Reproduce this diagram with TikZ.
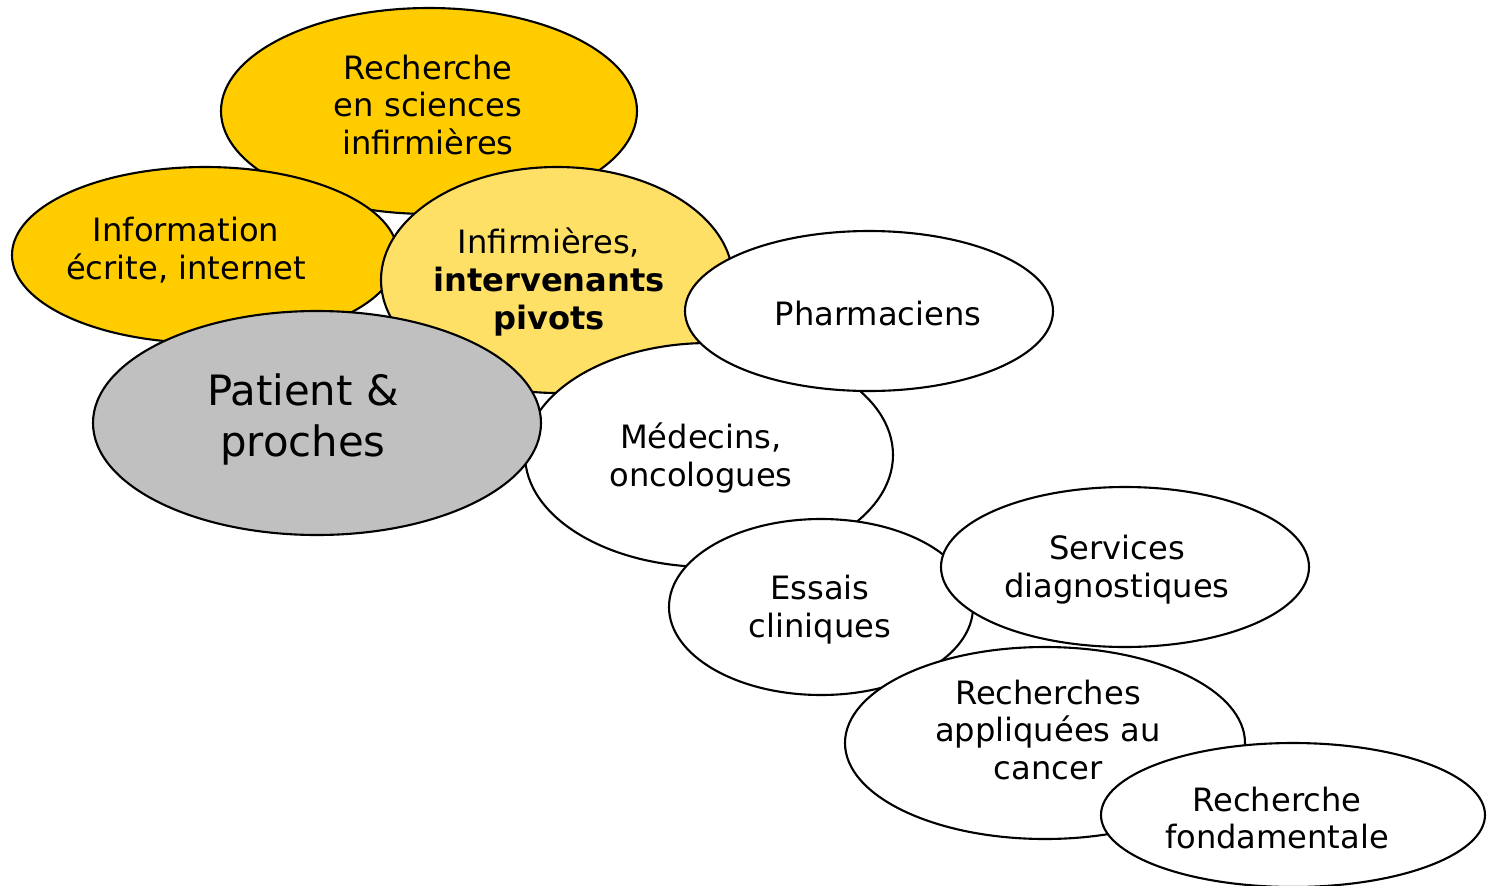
\documentclass[tikz,border=0pt]{standalone}
\usepackage{fontspec}
\setmainfont{DejaVu Sans}
\definecolor{gold}{HTML}{FFCC00}
\definecolor{lightgold}{HTML}{FFE066}
\definecolor{patgray}{HTML}{C0C0C0}
\tikzset{
  ell/.style={draw=black, line width=1.2pt, fill=#1},
  lbl/.style={align=center, inner sep=0pt, font=\fontsize{18.3}{21.6}\selectfont},
  biglbl/.style={align=center, inner sep=0pt, font=\fontsize{23.8}{29}\selectfont}
}
\begin{document}
\begin{tikzpicture}[x=0.02cm, y=-0.02cm]
\useasboundingbox (0,0) rectangle (1489,886);
% ellipses (back to front)
\path[ell=gold] (429,111) coordinate (e1) ellipse [x radius=208, y radius=103];
\path[ell=gold] (205,255) coordinate (e2) ellipse [x radius=193, y radius=88];
\path[ell=lightgold] (557,280) coordinate (e3) ellipse [x radius=176, y radius=113];
\path[ell=white] (709,455) coordinate (e5) ellipse [x radius=184, y radius=112];
\path[ell=patgray] (317,423) coordinate (e4) ellipse [x radius=224, y radius=112];
\path[ell=white] (869,311) coordinate (e6) ellipse [x radius=184, y radius=80];
\path[ell=white] (821,607) coordinate (e7) ellipse [x radius=152, y radius=88];
\path[ell=white] (1125,567) coordinate (e8) ellipse [x radius=184, y radius=80];
\path[ell=white] (1045,743) coordinate (e9) ellipse [x radius=200, y radius=96];
\path[ell=white] (1293,815) coordinate (e10) ellipse [x radius=192, y radius=72];
% labels
\node[lbl] (t1) at (428,105) {Recherche\\en sciences\\infirmières};
\node[lbl] (t2) at (186,250) {Information\\écrite, internet};
\node[lbl] (t3) at (549,282) {Infirmières,\\\textbf{intervenants}\\\textbf{pivots}};
\node[biglbl] (t4) at (303,419) {Patient \&\\proches};
\node[lbl] (t5) at (701,458) {Médecins,\\oncologues};
\node[lbl] (t6) at (878,314) {Pharmaciens};
\node[lbl] (t7) at (820,610) {Essais\\cliniques};
\node[lbl] (t8) at (1117,570) {Services\\diagnostiques};
\node[lbl] (t9) at (1048,730) {Recherches\\appliquées au\\cancer};
\node[lbl] (t10) at (1277,818) {Recherche\\fondamentale};
\end{tikzpicture}
\end{document}
